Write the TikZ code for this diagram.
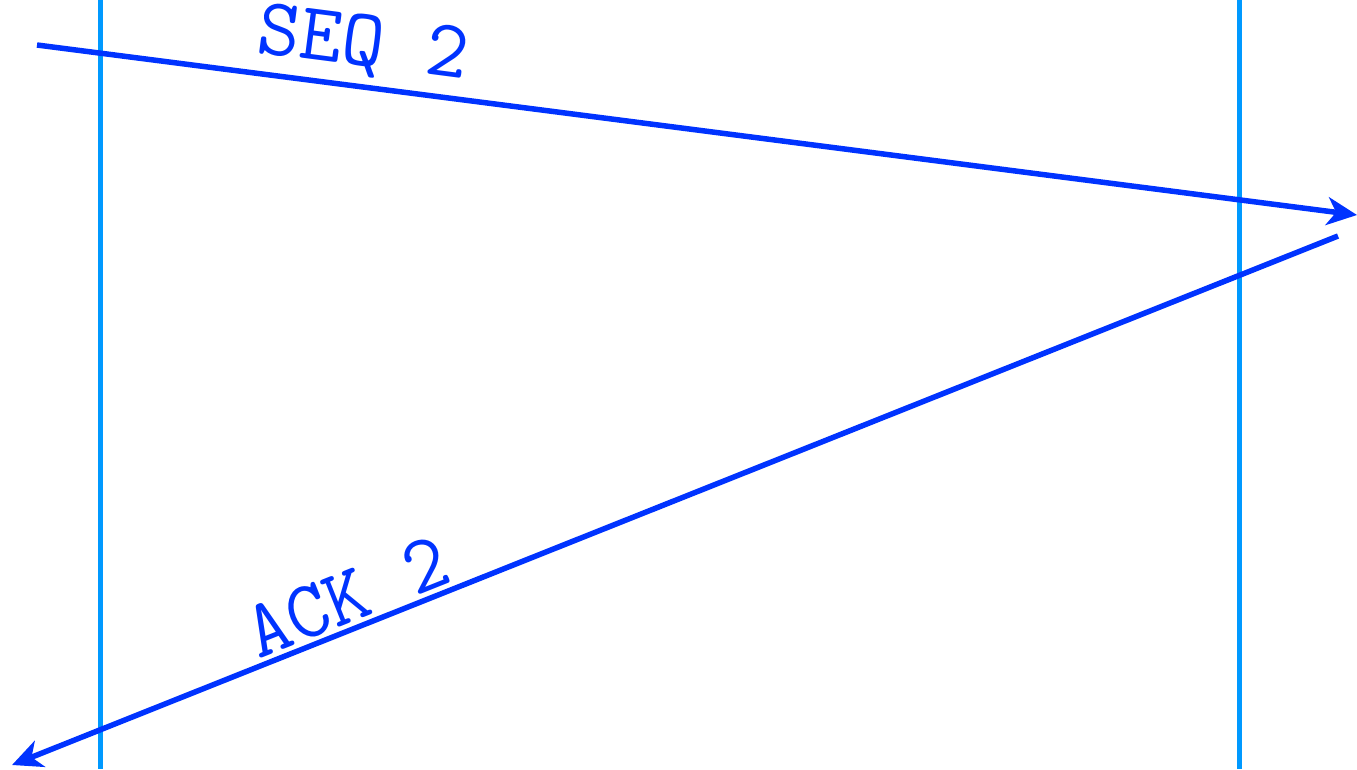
\documentclass[tikz,border=0pt]{standalone}
\usepackage{fontspec}
\usetikzlibrary{arrows.meta}
\definecolor{msgblue}{HTML}{0033FF}
\definecolor{lifeblue}{HTML}{0099FF}
\tikzset{
  lifeline/.style={draw=lifeblue, line width=5pt},
  msg/.style={draw=msgblue, line width=5.5pt, -{Stealth[length=30pt,width=28pt,inset=9pt]}},
  msglabel/.style={text=msgblue, font=\ttfamily\fontsize{82}{82}\selectfont, inner sep=0pt}
}
\begin{document}
\begin{tikzpicture}[x=1pt,y=-1pt]
\useasboundingbox (0,0) rectangle (1357,769);
\coordinate (Ltop) at (100,0);
\coordinate (Lbot) at (100,769);
\coordinate (Rtop) at (1239,0);
\coordinate (Rbot) at (1239,769);
\draw[lifeline] (Ltop) -- (Lbot);
\draw[lifeline] (Rtop) -- (Rbot);
\coordinate (seqstart) at (37,45);
\coordinate (seqend) at (1357,215);
\coordinate (ackstart) at (1338,236);
\coordinate (ackend) at (12,765);
\draw[msg] (seqstart) -- (seqend);
\draw[msg] (ackstart) -- (ackend);
\node[msglabel, rotate=-7.4] (seq) at (363,46) {SEQ 2};
\node[msglabel, rotate=21.75] (ack) at (347,597) {ACK 2};
\end{tikzpicture}
\end{document}
